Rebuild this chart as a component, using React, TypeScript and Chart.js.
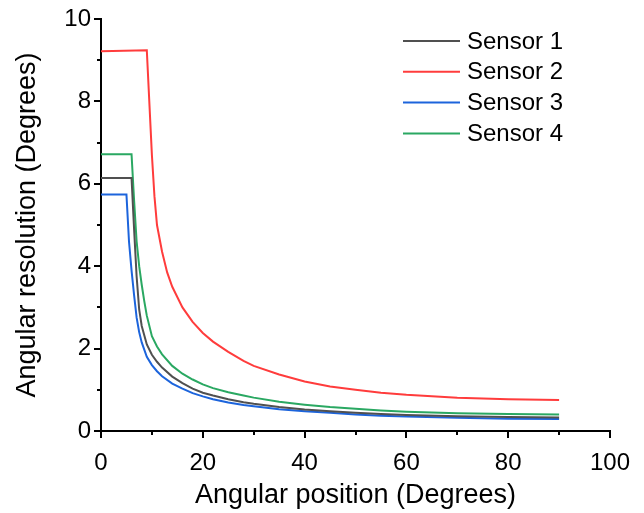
import React, { useEffect, useRef } from "react";
import { Chart, registerables } from "chart.js";

Chart.register(...registerables);

const sensorLabels = ["Sensor 1", "Sensor 2", "Sensor 3", "Sensor 4"];
const sensorColors = ["#505050", "#ff3c3c", "#1c64dc", "#2aa862"];

const sensor1X = [0, 6, 6.5, 7, 7.5, 8, 9, 10, 11, 12, 14, 16, 18, 20, 22, 25, 28, 30, 35, 40, 45, 50, 55, 60, 70, 80, 90];
const sensor1Y = [6.14, 6.14, 4.9, 3.75, 2.95, 2.55, 2.1, 1.85, 1.68, 1.54, 1.32, 1.16, 1.03, 0.93, 0.86, 0.77, 0.7, 0.66, 0.58, 0.52, 0.48, 0.44, 0.41, 0.39, 0.36, 0.34, 0.33];

const sensor2X = [0, 9, 10, 10.5, 11, 12, 13, 14, 16, 18, 20, 22, 25, 28, 30, 35, 40, 45, 50, 55, 60, 70, 80, 90];
const sensor2Y = [9.22, 9.24, 6.7, 5.7, 5.0, 4.35, 3.85, 3.5, 3.0, 2.65, 2.38, 2.17, 1.92, 1.7, 1.58, 1.37, 1.2, 1.08, 1.0, 0.93, 0.88, 0.81, 0.77, 0.75];

const sensor3X = [0, 5, 5.5, 6, 6.5, 7, 7.5, 8, 9, 10, 11, 12, 14, 16, 18, 20, 22, 25, 28, 30, 35, 40, 45, 50, 55, 60, 70, 80, 90];
const sensor3Y = [5.74, 5.74, 4.6, 3.9, 3.3, 2.75, 2.4, 2.15, 1.8, 1.6, 1.45, 1.33, 1.15, 1.03, 0.92, 0.84, 0.77, 0.69, 0.63, 0.6, 0.53, 0.48, 0.44, 0.4, 0.37, 0.35, 0.32, 0.3, 0.29];

const sensor4X = [0, 6, 6.5, 7, 7.5, 8, 8.5, 9, 10, 11, 12, 14, 16, 18, 20, 22, 25, 28, 30, 35, 40, 45, 50, 55, 60, 70, 80, 90];
const sensor4Y = [6.72, 6.72, 5.6, 4.6, 4.0, 3.55, 3.15, 2.8, 2.3, 2.05, 1.86, 1.58, 1.39, 1.25, 1.13, 1.04, 0.94, 0.86, 0.81, 0.71, 0.64, 0.58, 0.54, 0.5, 0.47, 0.43, 0.41, 0.4];

const xTickLabels = [0, 20, 40, 60, 80, 100];
const yTickLabels = [0, 2, 4, 6, 8, 10];

const FONT = "'Liberation Sans', Arial, sans-serif";

const seriesX = [sensor1X, sensor2X, sensor3X, sensor4X];
const seriesY = [sensor1Y, sensor2Y, sensor3Y, sensor4Y];

const minorTicksPlugin = {
  id: "minorTicks",
  afterDraw(chart: any) {
    const { ctx, scales, chartArea } = chart;
    ctx.save();
    ctx.strokeStyle = "#000";
    ctx.lineWidth = 2;
    const xs = scales.x;
    for (let v = 10; v < 100; v += 20) {
      const px = Math.round(xs.getPixelForValue(v));
      ctx.beginPath();
      ctx.moveTo(px, chartArea.bottom);
      ctx.lineTo(px, chartArea.bottom + 4);
      ctx.stroke();
    }
    const ys = scales.y;
    for (let v = 1; v < 10; v += 2) {
      const py = Math.round(ys.getPixelForValue(v));
      ctx.beginPath();
      ctx.moveTo(chartArea.left, py);
      ctx.lineTo(chartArea.left - 4, py);
      ctx.stroke();
    }
    ctx.restore();
  },
};

const legendPlugin = {
  id: "customLegend",
  afterDraw(chart: any) {
    const { ctx, chartArea } = chart;
    ctx.save();
    const x0 = chartArea.right - 207;
    const y0 = chartArea.top + 22;
    ctx.font = `24px ${FONT}`;
    ctx.textBaseline = "middle";
    ctx.textAlign = "left";
    chart.data.datasets.forEach((ds: any, i: number) => {
      const y = y0 + i * 30.8;
      ctx.strokeStyle = ds.borderColor;
      ctx.lineWidth = 2;
      ctx.beginPath();
      ctx.moveTo(x0, y);
      ctx.lineTo(x0 + 57, y);
      ctx.stroke();
      ctx.fillStyle = "#000";
      ctx.fillText(ds.label, x0 + 64, y + 1);
    });
    ctx.restore();
  },
};

export default function App() {
  const ref = useRef<HTMLCanvasElement | null>(null);
  useEffect(() => {
    if (!ref.current) return;
    const datasets = sensorLabels.map((label, i) => ({
      label,
      data: seriesX[i].map((x, j) => ({ x, y: seriesY[i][j] })),
      borderColor: sensorColors[i],
      backgroundColor: sensorColors[i],
      borderWidth: 2,
      pointRadius: 0,
      tension: 0,
      fill: false,
    }));
    const chart = new Chart(ref.current, {
      type: "line",
      data: { datasets },
      options: {
        animation: false,
        responsive: false,
        maintainAspectRatio: false,
        layout: { padding: { top: 19, right: 34, left: 0, bottom: 0 } },
        plugins: { legend: { display: false }, tooltip: { enabled: false } },
        scales: {
          x: {
            type: "linear",
            min: 0,
            max: 100,
            afterBuildTicks: (scale: any) => {
              scale.ticks = xTickLabels.map((v) => ({ value: v }));
            },
            ticks: {
              font: { family: FONT, size: 24 },
              color: "#000",
              padding: 11,
              maxRotation: 0,
            },
            grid: {
              display: true,
              drawOnChartArea: false,
              drawTicks: true,
              tickLength: 7,
              color: "#000",
              lineWidth: 2,
            },
            border: { display: true, color: "#000", width: 2 },
            title: {
              display: true,
              text: "Angular position (Degrees)",
              font: { family: FONT, size: 27 },
              color: "#000",
              padding: { top: 0, bottom: 1 },
            },
            afterFit: (scale: any) => {
              scale.height = 82;
            },
          },
          y: {
            type: "linear",
            min: 0,
            max: 10,
            afterBuildTicks: (scale: any) => {
              scale.ticks = yTickLabels.map((v) => ({ value: v }));
            },
            ticks: {
              font: { family: FONT, size: 24 },
              color: "#000",
              padding: 3,
            },
            grid: {
              display: true,
              drawOnChartArea: false,
              drawTicks: true,
              tickLength: 7,
              color: "#000",
              lineWidth: 2,
            },
            border: { display: true, color: "#000", width: 2 },
            title: {
              display: true,
              text: "Angular resolution (Degrees)",
              font: { family: FONT, size: 27 },
              color: "#000",
              padding: { top: 11, bottom: 0 },
            },
            afterFit: (scale: any) => {
              scale.width = 101;
            },
          },
        },
      },
      plugins: [minorTicksPlugin, legendPlugin],
    });
    return () => chart.destroy();
  }, []);
  return (
    <div style={{ position: "absolute", left: 0, top: 0, width: 644, height: 513, background: "#fff" }}>
      <canvas ref={ref} width={644} height={513} style={{ width: 644, height: 513 }} />
    </div>
  );
}
